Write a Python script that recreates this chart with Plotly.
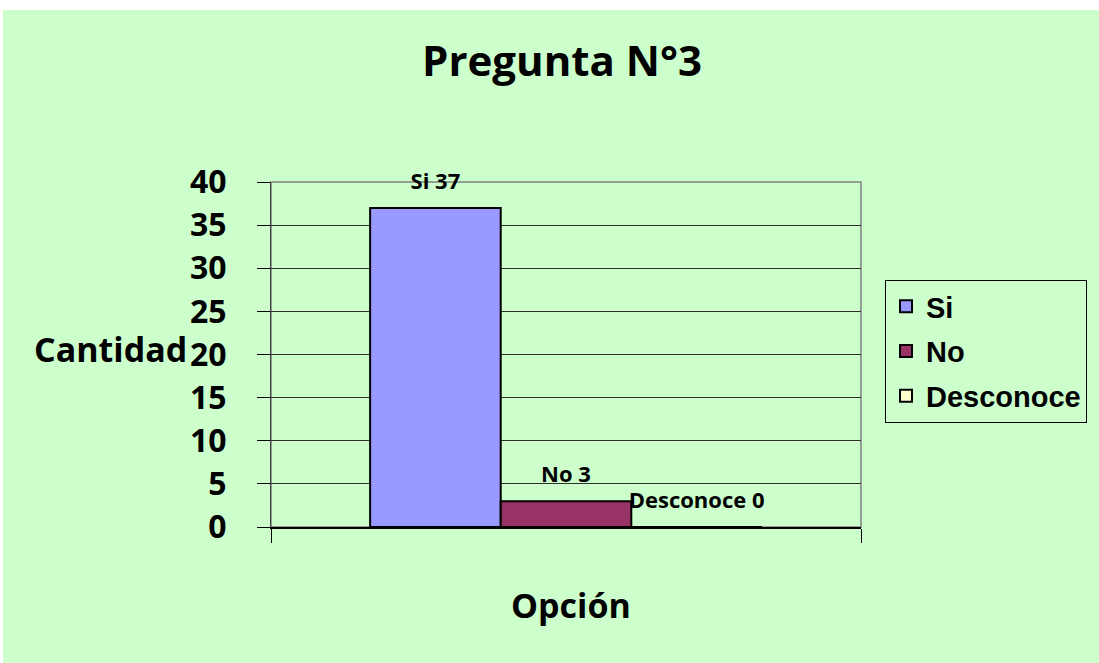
import plotly.graph_objects as go

categories = [""]
series_names = ["Si", "No", "Desconoce"]
series_values = [[37], [3], [0]]
series_colors = ["#9999FF", "#993366", "#FFFFCC"]
y_ticks = [0, 5, 10, 15, 20, 25, 30, 35, 40]

W, H = 1099, 663
L, R, T, B = 271, 238, 182, 136
PW, PH = W - L - R, H - T - B

fig = go.Figure()
for name, vals, col in zip(series_names, series_values, series_colors):
    fig.add_trace(go.Bar(
        x=categories, y=vals, name=name, legendgroup=name,
        marker=dict(color=col, line=dict(color="black", width=2)),
        text=[f"<span style='font-size:22px'>{name} {v}</span><br> " for v in vals],
        textposition="outside", constraintext="none", cliponaxis=False,
        textfont=dict(family="Open Sans", size=10, color="black", weight="bold"),
    ))

fig.update_layout(
    width=W, height=H,
    margin=dict(l=L, r=R, t=T, b=B),
    paper_bgcolor="white",
    plot_bgcolor="#C0C0C0",
    barmode="group", bargap=0.336, bargroupgap=0,
    showlegend=True,
    title=dict(text="<b>Pregunta N°3</b>", x=562 / W, xanchor="center",
               y=1 - 61 / H, yanchor="middle", yref="container",
               font=dict(family="Open Sans", size=42, color="black")),
    legend=dict(x=(885 - L) / PW, xanchor="left",
                y=(H - B - 280) / PH, yanchor="top",
                bgcolor="rgba(0,0,0,0)", bordercolor="black", borderwidth=1,
                font=dict(family="Liberation Sans", size=29, color="black", weight="bold"),
                itemwidth=30, tracegroupgap=4),
    xaxis=dict(type="category", showticklabels=False, ticks="outside", ticklen=14,
               tickcolor="black", tickson="boundaries", showline=True,
               linecolor="black", linewidth=1.5, mirror=False, showgrid=False),
    yaxis=dict(range=[0, 40], tickvals=y_ticks, ticks="outside", ticklen=13,
               tickcolor="black", showline=True, linecolor="#404040", mirror=False,
               gridcolor="#303030", gridwidth=1, ticklabelstandoff=24,
               tickfont=dict(family="Open Sans", size=32, color="black", weight="bold"),
               zeroline=False),
    shapes=[
        dict(type="rect", xref="paper", yref="paper", layer="below",
             x0=(3 - L) / PW, x1=(W + 5 - L) / PW,
             y0=(H - B - H - 5) / PH, y1=(H - B - 10) / PH,
             fillcolor="#CCFFCC", line=dict(width=0)),
        dict(type="rect", xref="paper", yref="paper", layer="below",
             x0=0, x1=1, y0=0, y1=1,
             fillcolor="rgba(0,0,0,0)", line=dict(color="#808080", width=1.5)),
    ],
    annotations=[
        dict(text="<b>Cantidad</b>", xref="paper", yref="paper", x=0, y=0.5,
             xanchor="right", yanchor="middle", xshift=-(L - 189), yshift=6,
             showarrow=False, font=dict(family="Open Sans", size=34, color="black")),
        dict(text="<b>Opción</b>", xref="paper", yref="paper", x=(571 - L) / PW, y=0,
             xanchor="center", yanchor="middle", yshift=-78,
             showarrow=False, font=dict(family="Open Sans", size=34, color="black")),
    ],
)

fig.write_html("out.html", config={"displayModeBar": False},
               post_script="document.body.style.margin='0';document.body.style.overflow='hidden';")
